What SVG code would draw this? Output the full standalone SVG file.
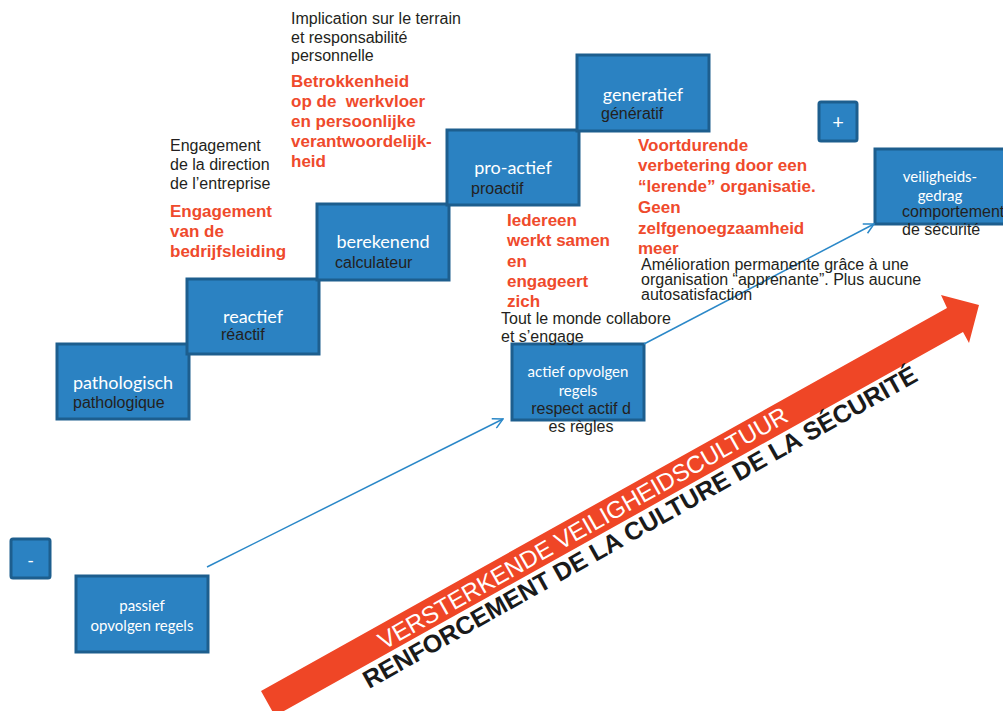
<svg xmlns="http://www.w3.org/2000/svg" width="1003" height="711" viewBox="0 0 1003 711">
  <defs>
    <style>
      .box { fill: #2b82c2; stroke: #1d5e8e; stroke-width: 3; }
      .lbl { font-family: Lato, "Open Sans", sans-serif; fill: #ffffff; text-anchor: middle; }
      .sub { font-family: "Liberation Sans", Arial, sans-serif; fill: #231f20; font-size: 16px; }
      .note { font-family: "Liberation Sans", Arial, sans-serif; fill: #231f20; font-size: 16px; }
      .red { font-family: "Liberation Sans", Arial, sans-serif; fill: #ef4a2c; font-size: 17px; font-weight: bold; }
      .conn { fill: none; stroke: #2b88c8; stroke-width: 1.5; }
    </style>
    <marker id="open-arrow" viewBox="0 0 12 12" refX="11" refY="6" markerWidth="12" markerHeight="12" markerUnits="userSpaceOnUse" orient="auto">
      <path d="M1,0.8 L11,6 L1,11.2" fill="none" stroke="#2b88c8" stroke-width="1.5"/>
    </marker>
  </defs>

  <rect width="1003" height="711" fill="#ffffff"/>

  <!-- culture ladder -->
  <g id="pathologisch">
    <rect class="box" x="57" y="344" width="132" height="75"/>
    <text class="lbl" x="123" y="389" font-size="18">pathologisch</text>
    <text class="sub" x="73" y="408">pathologique</text>
  </g>
  <g id="reactief">
    <rect class="box" x="187" y="279" width="132" height="75"/>
    <text class="lbl" x="253" y="323" font-size="18">reactief</text>
    <text class="sub" x="221" y="340">réactif</text>
  </g>
  <g id="berekenend">
    <rect class="box" x="317" y="204" width="132" height="76"/>
    <text class="lbl" x="383" y="248" font-size="18">berekenend</text>
    <text class="sub" x="335" y="268">calculateur</text>
  </g>
  <g id="pro-actief">
    <rect class="box" x="447" y="130" width="132" height="75"/>
    <text class="lbl" x="513" y="174" font-size="18">pro-actief</text>
    <text class="sub" x="471" y="194">proactif</text>
  </g>
  <g id="generatief">
    <rect class="box" x="577" y="55" width="132" height="76"/>
    <text class="lbl" x="643" y="101" font-size="18">generatief</text>
    <text class="sub" x="601" y="119">génératif</text>
  </g>

  <!-- scale markers -->
  <g id="minus">
    <rect class="box" x="11" y="539" width="39" height="39" rx="2"/>
    <text class="lbl" x="30.5" y="567" font-size="18">-</text>
  </g>
  <g id="plus">
    <rect class="box" x="819" y="102" width="38" height="39" rx="2"/>
    <text class="lbl" x="838" y="129" font-size="20">+</text>
  </g>

  <!-- behaviour boxes -->
  <g id="passief">
    <rect class="box" x="76" y="576" width="132" height="76"/>
    <text class="lbl" x="142" y="611" font-size="15">passief</text>
    <text class="lbl" x="142" y="631" font-size="15">opvolgen regels</text>
  </g>
  <g id="actief">
    <rect class="box" x="512" y="344" width="132" height="76"/>
    <text class="lbl" x="578" y="377" font-size="15">actief opvolgen</text>
    <text class="lbl" x="578" y="396" font-size="15">regels</text>
    <text class="sub" x="581" y="414" text-anchor="middle">respect actif d</text>
    <text class="sub" x="581" y="432" text-anchor="middle">es règles</text>
  </g>
  <g id="veiligheidsgedrag">
    <rect class="box" x="875" y="149" width="140" height="75"/>
    <text class="lbl" x="940" y="182" font-size="15">veiligheids-</text>
    <text class="lbl" x="940" y="201" font-size="15">gedrag</text>
    <text class="sub" x="902" y="217">comportement</text>
    <text class="sub" x="902" y="235">de sécurité</text>
  </g>

  <!-- connectors -->
  <g id="connectors">
    <line class="conn" x1="207" y1="567" x2="503" y2="419" marker-end="url(#open-arrow)"/>
    <line class="conn" x1="644" y1="344" x2="874" y2="224" marker-end="url(#open-arrow)"/>
  </g>

  <!-- level descriptions -->
  <g id="desc-reactief">
    <text class="note" x="170" y="151">Engagement</text>
    <text class="note" x="170" y="170">de la direction</text>
    <text class="note" x="170" y="189">de l’entreprise</text>
    <text class="red" x="170" y="217">Engagement</text>
    <text class="red" x="170" y="237">van de</text>
    <text class="red" x="170" y="257">bedrijfsleiding</text>
  </g>
  <g id="desc-berekenend">
    <text class="note" x="291" y="24">Implication sur le terrain</text>
    <text class="note" x="291" y="43">et responsabilité</text>
    <text class="note" x="291" y="61">personnelle</text>
    <text class="red" x="291" y="87" xml:space="preserve">Betrokkenheid</text>
    <text class="red" x="291" y="107" xml:space="preserve">op de  werkvloer</text>
    <text class="red" x="291" y="127">en persoonlijke</text>
    <text class="red" x="291" y="147">verantwoordelijk-</text>
    <text class="red" x="291" y="167">heid</text>
  </g>
  <g id="desc-proactief">
    <text class="red" x="507" y="226">Iedereen</text>
    <text class="red" x="507" y="246">werkt samen</text>
    <text class="red" x="507" y="267">en</text>
    <text class="red" x="507" y="287">engageert</text>
    <text class="red" x="507" y="307">zich</text>
    <text class="note" x="501" y="324">Tout le monde collabore</text>
    <text class="note" x="501" y="342">et s’engage</text>
  </g>
  <g id="desc-generatief">
    <text class="red" x="638" y="151">Voortdurende</text>
    <text class="red" x="638" y="171">verbetering door een</text>
    <text class="red" x="638" y="192">“lerende” organisatie.</text>
    <text class="red" x="638" y="213">Geen</text>
    <text class="red" x="638" y="234">zelfgenoegzaamheid</text>
    <text class="red" x="638" y="254">meer</text>
    <text class="note" x="641" y="270" font-size="15.3">Amélioration permanente grâce à une</text>
    <text class="note" x="641" y="285" font-size="15.3">organisation “apprenante”. Plus aucune</text>
    <text class="note" x="641" y="300" font-size="15.3">autosatisfaction</text>
  </g>

  <!-- rising culture arrow -->
  <g id="trend-arrow">
    <polygon points="261,691 947,308 941,295 979,305 969,343 963,332 275,716" fill="#ef4626"/>
    <text transform="translate(384,650) rotate(-29.5)" font-family="'Liberation Sans', Arial, sans-serif" font-size="24" fill="#ffffff">VERSTERKENDE VEILIGHEIDSCULTUUR</text>
    <text transform="translate(369,689) rotate(-29.3)" font-family="'Liberation Sans', Arial, sans-serif" font-size="25" font-weight="bold" fill="#1a1a1a">RENFORCEMENT DE LA CULTURE DE LA SÉCURITÉ</text>
  </g>
</svg>
